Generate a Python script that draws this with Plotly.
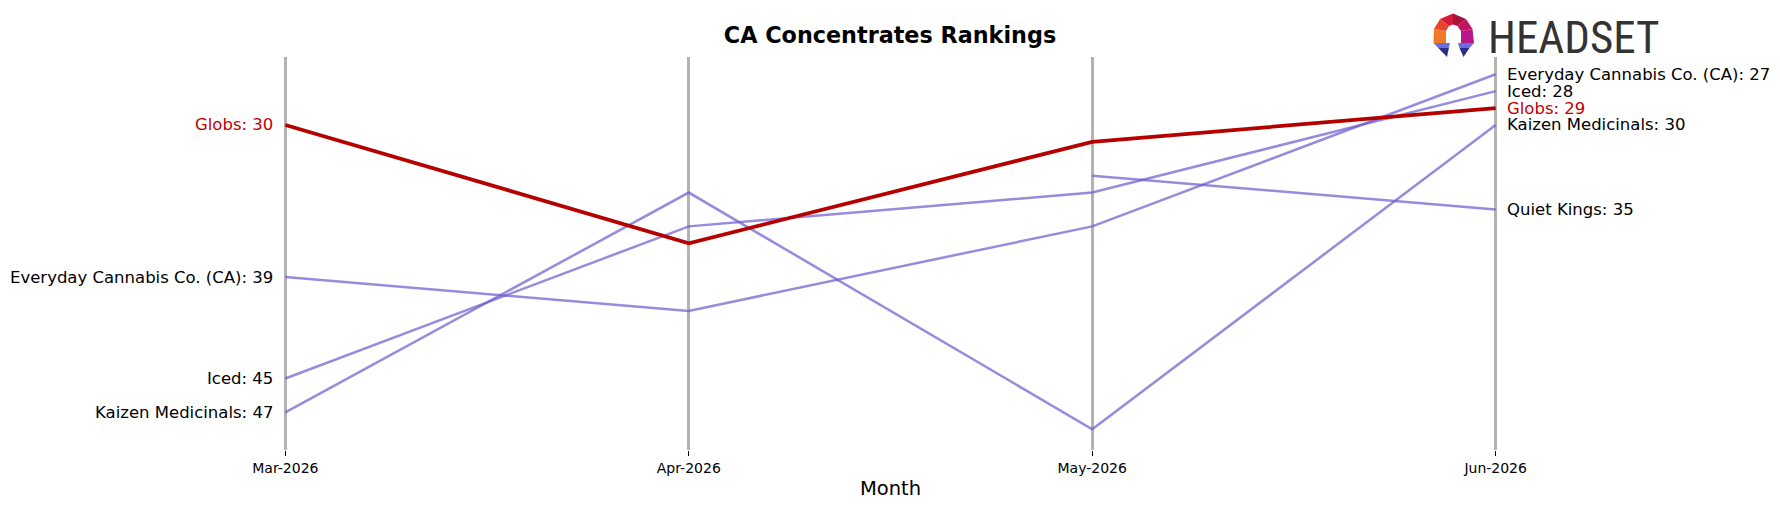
import plotly.graph_objects as go

# ---- data ----
months = ["Mar-2026", "Apr-2026", "May-2026", "Jun-2026"]
everyday = [39, 41, 36, 27]
iced = [45, 36, 34, 28]
kaizen = [47, 34, 48, 30]
quiet_kings = [None, None, 33, 35]
globs = [30, 37, 31, 29]

series = [
    ("Everyday Cannabis Co. (CA)", everyday),
    ("Iced", iced),
    ("Kaizen Medicinals", kaizen),
    ("Quiet Kings", quiet_kings),
    ("Globs", globs),
]
highlight = "Globs"

PURPLE = "rgba(106,90,205,0.70)"
RED = "#b50000"
xs = list(range(len(months)))

W, H = 1780, 507
ML, MR, MT, MB = 245, 244, 57, 57
PW, PH = W - ML - MR, H - MT - MB

fig = go.Figure()
annotations = []
for name, vals in series:
    is_hl = name == highlight
    fig.add_trace(go.Scatter(
        x=xs, y=vals, mode="lines", name=name,
        line=dict(color=RED if is_hl else PURPLE, width=3.8 if is_hl else 2.5),
        hoverinfo="skip", showlegend=False,
    ))
    tcol = "#c00000" if is_hl else "black"
    if vals[0] is not None:
        annotations.append(dict(
            x=xs[0], y=vals[0], xref="x", yref="y", text=f"{name}: {vals[0]}",
            showarrow=False, xanchor="right", yanchor="middle", xshift=-10,
            font=dict(family="DejaVu Sans", size=16.5, color=tcol)))
    if vals[-1] is not None:
        annotations.append(dict(
            x=xs[-1], y=vals[-1], xref="x", yref="y", text=f"{name}: {vals[-1]}",
            showarrow=False, xanchor="left", yanchor="middle", xshift=9,
            font=dict(family="DejaVu Sans", size=16.5, color=tcol)))

# x-axis title
annotations.append(dict(
    x=0.5, y=(MT + PH - 488) / PH, xref="paper", yref="paper", text="Month",
    showarrow=False, xanchor="center", yanchor="middle",
    font=dict(family="DejaVu Sans", size=19.5, color="black")))


def pxx(x):
    return (x - ML) / PW


def pyy(y):
    return (MT + PH - y) / PH


# HEADSET logo text
annotations.append(dict(
    x=pxx(1486), y=pyy(37), xref="paper", yref="paper", text="HEADSET",
    showarrow=False, xanchor="left", yanchor="middle",
    font=dict(family="Liberation Sans Narrow, Roboto Condensed, DejaVu Sans Condensed, Liberation Sans",
              size=45, color="#333333")))


# logo icon (decorative polygons)
def poly(pts, color):
    d = "M " + " L ".join(f"{pxx(x):.5f},{pyy(y):.5f}" for x, y in pts) + " Z"
    return dict(type="path", path=d, xref="paper", yref="paper",
                fillcolor=color, line=dict(width=0), layer="above")


o1, o2, o3, o4, o5, o6, o7 = (1433.5, 43), (1434, 29), (1440, 19), (1453, 13.5), (1466, 19), (1472.5, 29), (1474, 43)
i1, i2, i3, i4, i5, i6, i7 = (1446, 43), (1446, 31), (1449, 26), (1453, 24.5), (1457.5, 26), (1461, 31), (1461, 43)
shapes = [
    poly([o1, o2, i2, i1], "#f07b24"),
    poly([o2, o3, i3, i2], "#e8452f"),
    poly([o3, o4, i4, i3], "#d7193a"),
    poly([o4, o5, i5, i4], "#a8133f"),
    poly([o5, o6, i6, i5], "#c4135f"),
    poly([o6, o7, i7, i6], "#b8168a"),
    # left foot
    poly([(1433.5, 43), (1450, 43), (1448.9, 48), (1438.3, 48)], "#6a6ee0"),
    poly([(1438.3, 48), (1448.9, 48), (1447, 57)], "#2a2e8a"),
    # right foot
    poly([(1474, 43), (1458, 43), (1459.5, 48), (1469.5, 48)], "#6a6ee0"),
    poly([(1469.5, 48), (1459.5, 48), (1463.5, 57)], "#2a2e8a"),
]

fig.update_layout(
    width=W, height=H,
    margin=dict(l=ML, r=MR, t=MT, b=MB),
    paper_bgcolor="white", plot_bgcolor="white",
    title=dict(text="<b>CA Concentrates Rankings</b>", x=0.5, xref="container",
               y=1 - 35 / H, yref="container", xanchor="center", yanchor="middle",
               font=dict(family="DejaVu Sans", size=22.3, color="black")),
    xaxis=dict(range=[-0.1, 3.1], tickvals=xs, ticktext=months,
               showgrid=True, gridcolor="#b3b3b3", gridwidth=3,
               zeroline=False, showline=False,
               ticks="outside", ticklen=5, tickwidth=1, tickcolor="black",
               tickfont=dict(family="DejaVu Sans", size=14, color="black")),
    yaxis=dict(range=[49.23, 25.98], visible=False, showgrid=False, zeroline=False),
    annotations=annotations,
    shapes=shapes,
)

fig.write_html("out.html")
